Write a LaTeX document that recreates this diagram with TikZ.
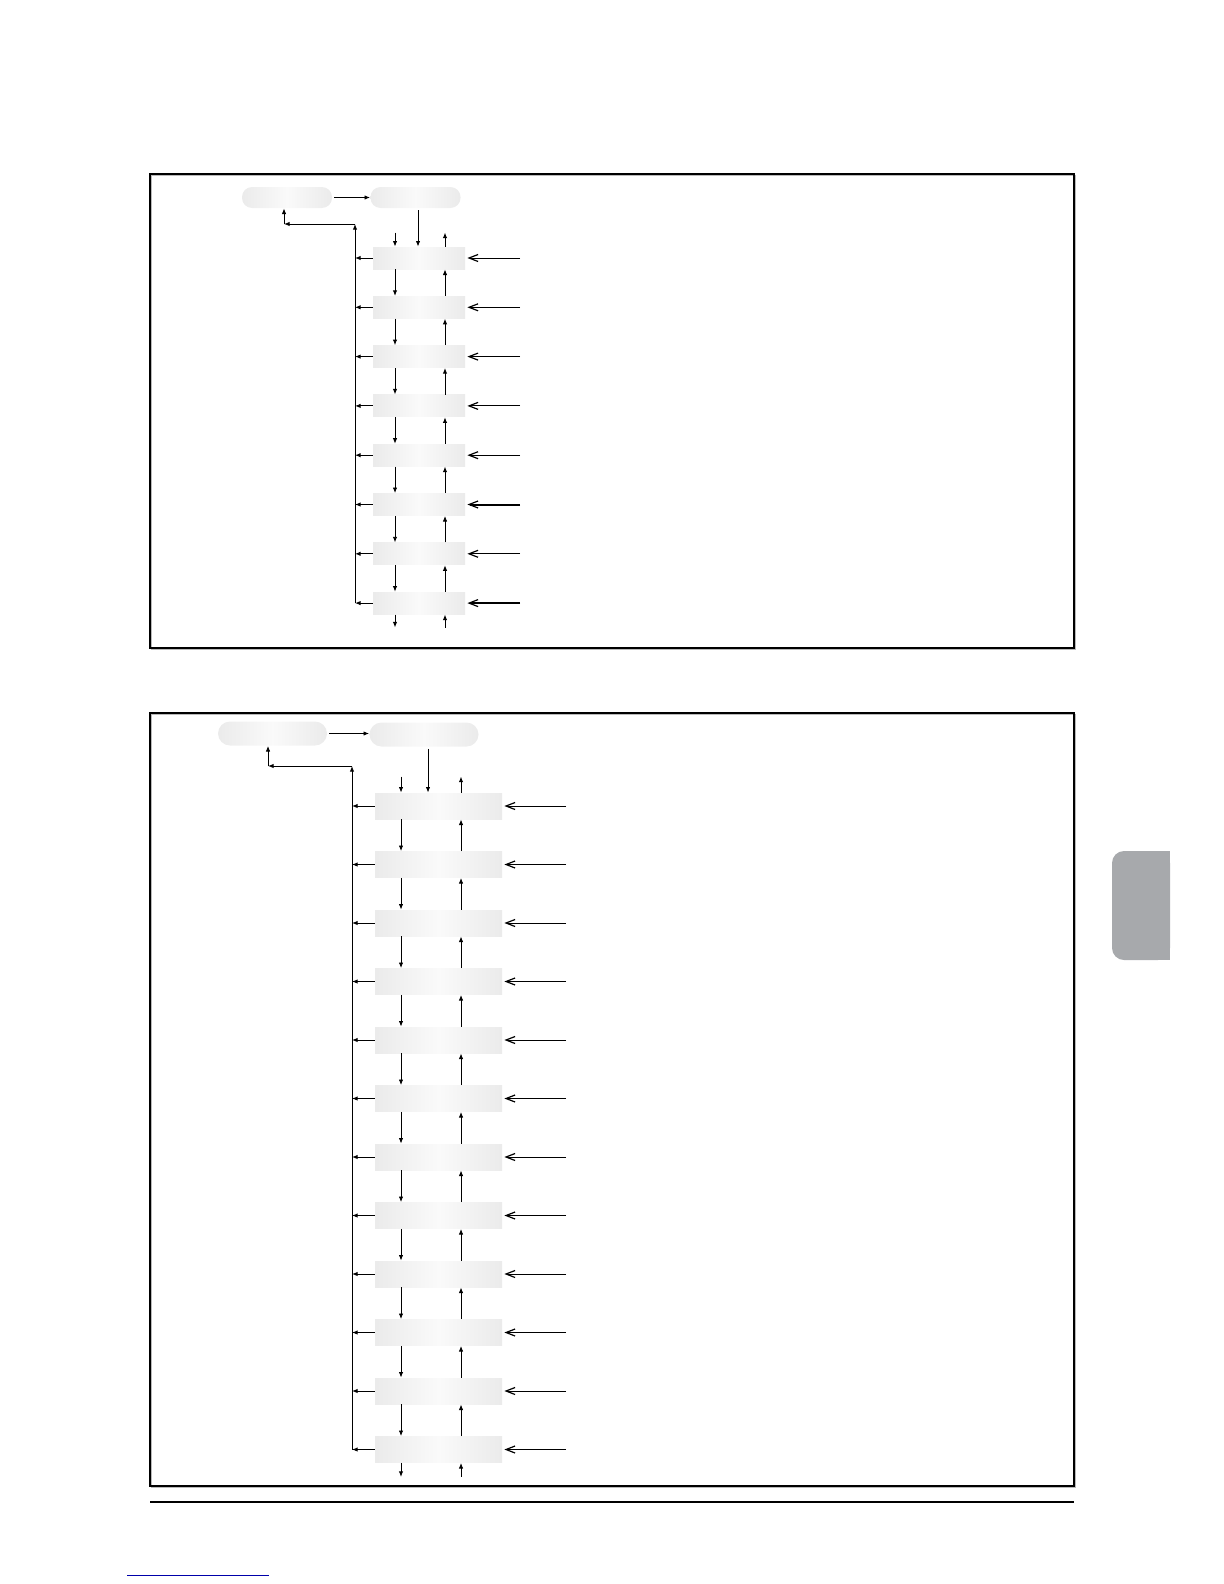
\documentclass[tikz,border=0pt]{standalone}
\usetikzlibrary{arrows.meta,calc}
\definecolor{tabgray}{RGB}{167,169,172}
\definecolor{linkblue}{RGB}{0,0,170}
\begin{document}
\begin{tikzpicture}[x=0.5pt,y=-0.5pt,
  arr/.style={-{Latex[length=2.8pt,width=2.2pt]}, line width=0.45pt},
  barb/.style={-{Straight Barb[length=4.5pt,width=3.5pt,line width=0.6pt]}, line width=0.5pt, shorten >=1pt},
  pale/.style={draw=none, inner sep=0pt, left color=gray!16, right color=gray!16, middle color=gray!4},
  tbox/.style={pale, minimum width=46pt, minimum height=11pt},
  bbox/.style={pale, minimum width=63.5pt, minimum height=13pt},
  tpill/.style={pale, rounded corners=5pt, minimum width=45pt, minimum height=10.5pt},
  bpill/.style={pale, rounded corners=6pt, minimum width=54.5pt, minimum height=12pt},
  frameline/.style={line width=0.9pt},
  frameshadow/.style={line width=0.9pt, gray!55},
]
\useasboundingbox (0,0) rectangle (1224,1584);

% ---------- frames ----------
\draw[frameshadow] (151.5,175.5) rectangle (1075.5,649.5);
\draw[frameline] (150,174) rectangle (1074,648);
\draw[frameshadow] (151.5,714.5) rectangle (1075.5,1487.5);
\draw[frameline] (150,713) rectangle (1074,1486);
\draw[line width=0.6pt] (150,1502) -- (1074,1502);
\draw[linkblue, line width=0.5pt] (127,1575) -- (269,1575);

% ---------- side tab ----------
\fill[tabgray, rounded corners=6pt] (1112,851) rectangle (1170,960);
\fill[tabgray] (1140,851) rectangle (1170,960);

% ---------- top diagram ----------
\node[tpill] (tA) at (287,197.5) {};
\node[tpill] (tB) at (415.5,197.5) {};
\foreach \k in {1,...,8} {
  \node[tbox] (t\k) at (419,{258+(\k-1)*49.3}) {};
}
\coordinate (tL) at (395,0);
\coordinate (tR) at (445,0);
\coordinate (tV) at (355,0);
\coordinate (tM) at (418,0);
\coordinate (tE) at (520,0);
\coordinate (tc1) at (355,224);
\coordinate (tc2) at (284,224);

\draw[arr, shorten <=1pt] (tA.east) -- (tA.east -| tB.west);
\draw[arr, shorten <=1pt] (tB.south -| tM) -- (t1.north -| tM);
\draw[arr] ($(t1.north -| tL)+(0,-14)$) -- (t1.north -| tL);
\draw[arr] (t1.north -| tR) -- ++(0,-14);
\foreach \k in {1,...,7} {
  \pgfmathtruncatemacro{\n}{\k+1}
  \draw[arr] (t\k.south -| tL) -- (t\n.north -| tL);
  \draw[arr] (t\n.north -| tR) -- (t\k.south -| tR);
}
\draw[arr] (t8.south -| tL) -- ++(0,13);
\draw[arr] ($(t8.south -| tR)+(0,13)$) -- (t8.south -| tR);
\foreach \k in {1,...,8} {
  \draw[arr] (t\k.west) -- (t\k.west -| tV);
  \coordinate (te\k) at (t\k.east -| tE);
}
\foreach \k in {1,2,3,4,5,7} { \draw[barb] (te\k) -- (t\k.east); }
\foreach \k in {6,8} { \draw[barb, line width=1pt] (te\k) -- (t\k.east); }
\draw[arr] (t8.west -| tV) -- (tc1);
\draw[arr] (tc1) -- (tc2);
\draw[arr] (tc2) -- (tA.south -| tc2);

% ---------- bottom diagram ----------
\node[bpill] (bA) at (272.5,733.5) {};
\node[bpill] (bB) at (424,734.5) {};
\foreach \k in {1,...,12} {
  \node[bbox] (b\k) at (438.5,{806+(\k-1)*58.5}) {};
}
\coordinate (bL) at (401,0);
\coordinate (bR) at (461,0);
\coordinate (bV) at (352,0);
\coordinate (bM) at (428,0);
\coordinate (bE) at (566,0);
\coordinate (bc1) at (352,766);
\coordinate (bc2) at (268,766);

\draw[arr, shorten <=1pt] (bA.east) -- (bA.east -| bB.west);
\draw[arr, shorten <=1pt] (bB.south -| bM) -- (b1.north -| bM);
\draw[arr] ($(b1.north -| bL)+(0,-16)$) -- (b1.north -| bL);
\draw[arr] (b1.north -| bR) -- ++(0,-16);
\foreach \k in {1,...,11} {
  \pgfmathtruncatemacro{\n}{\k+1}
  \draw[arr] (b\k.south -| bL) -- (b\n.north -| bL);
  \draw[arr] (b\n.north -| bR) -- (b\k.south -| bR);
}
\draw[arr] (b12.south -| bL) -- ++(0,14);
\draw[arr] ($(b12.south -| bR)+(0,14)$) -- (b12.south -| bR);
\foreach \k in {1,...,12} {
  \draw[arr] (b\k.west) -- (b\k.west -| bV);
  \coordinate (be\k) at (b\k.east -| bE);
  \draw[barb] (be\k) -- (b\k.east);
}
\draw[arr] (b12.west -| bV) -- (bc1);
\draw[arr] (bc1) -- (bc2);
\draw[arr] (bc2) -- (bA.south -| bc2);
\end{tikzpicture}
\end{document}
